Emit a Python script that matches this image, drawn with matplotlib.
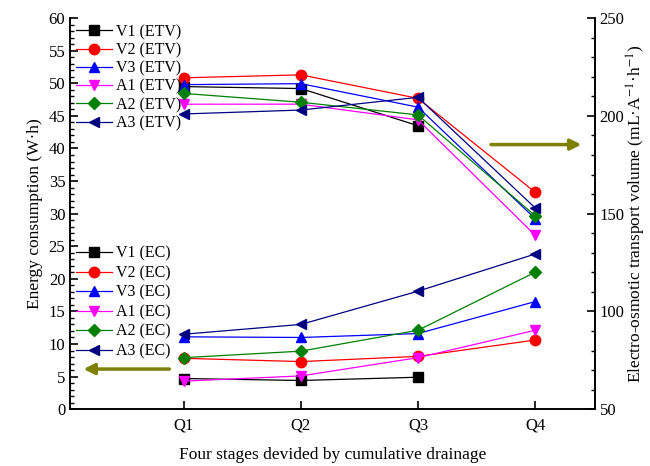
import matplotlib.pyplot as plt
from matplotlib.ticker import MultipleLocator
import numpy as np

plt.rcParams['font.family'] = ['Liberation Serif', 'DejaVu Serif']
plt.rcParams['mathtext.fontset'] = 'stix'

stages = ['Q1', 'Q2', 'Q3', 'Q4']
names = ['V1', 'V2', 'V3', 'A1', 'A2', 'A3']
nan = np.nan

# energy consumption (W·h), left axis
ec_v1 = [4.7, 4.4, 4.9, nan]
ec_v2 = [7.8, 7.3, 8.1, 10.6]
ec_v3 = [11.1, 11.0, 11.6, 16.5]
ec_a1 = [4.3, 5.1, 7.9, 12.1]
ec_a2 = [7.9, 8.9, 12.1, 21.0]
ec_a3 = [11.5, 13.0, 18.1, 23.8]

# electro-osmotic transport volume (mL·A-1·h-1), right axis
etv_v1 = [215.0, 214.0, 195.0, nan]
etv_v2 = [219.5, 221.0, 209.0, 161.0]
etv_v3 = [216.0, 216.5, 204.5, 147.5]
etv_a1 = [206.0, 206.0, 198.0, 139.0]
etv_a2 = [211.5, 207.0, 200.5, 149.0]
etv_a3 = [201.0, 203.0, 209.5, 153.0]

ec = [ec_v1, ec_v2, ec_v3, ec_a1, ec_a2, ec_a3]
etv = [etv_v1, etv_v2, etv_v3, etv_a1, etv_a2, etv_a3]

colors = ['black', 'red', 'blue', 'magenta', 'green', 'navy']
markers = ['s', 'o', '^', 'v', 'D', '<']
msizes = [6.5, 7.5, 7.5, 7.5, 6.5, 7.5]

x = np.arange(1, len(stages) + 1)

fig = plt.figure(figsize=(6.5, 4.66), dpi=100)
ax = fig.add_axes([0.108, 0.122, 0.807, 0.839])
ax2 = ax.twinx()

h_ec = []
h_etv = []
for i in range(6):
    l1, = ax.plot(x, ec[i], color=colors[i], marker=markers[i], ms=msizes[i],
                  lw=0.9, label=names[i] + ' (EC)')
    l2, = ax2.plot(x, etv[i], color=colors[i], marker=markers[i], ms=msizes[i],
                   lw=0.9, label=names[i] + ' (ETV)')
    h_ec.append(l1)
    h_etv.append(l2)

ax.set_xlim(0.03, 4.51)
ax.set_ylim(0, 60)
ax2.set_ylim(50, 250)
ax.set_xticks(x)
ax.set_xticklabels(stages)

ax.yaxis.set_major_locator(MultipleLocator(5))
ax.yaxis.set_minor_locator(MultipleLocator(1))
ax2.yaxis.set_major_locator(MultipleLocator(50))
ax2.yaxis.set_minor_locator(MultipleLocator(10))

for a in (ax, ax2):
    a.spines['top'].set_visible(False)
    a.tick_params(which='major', direction='in', length=6, width=1.2, labelsize=12)
    a.tick_params(which='minor', direction='in', length=3, width=1)
    for s in a.spines.values():
        s.set_linewidth(1.2)
ax.tick_params(axis='x', which='minor', bottom=False)
ax.tick_params(axis='x', pad=6)

ax.set_xlabel('Four stages devided by cumulative drainage', fontsize=12.5, labelpad=10)
ax.set_ylabel('Energy consumption (W·h)', fontsize=12.5, labelpad=4)
ax2.set_ylabel('Electro-osmotic transport volume (mL·A$^{-1}$·h$^{-1}$)',
               fontsize=12.5, labelpad=0)

leg1 = ax2.legend(handles=h_etv, loc='upper left', bbox_to_anchor=(0.012, 0.985),
                  frameon=False, fontsize=11.5, borderpad=0, borderaxespad=0,
                  handlelength=2.2, handletextpad=0.3, labelspacing=0.14)
ax2.add_artist(leg1)
ax2.legend(handles=h_ec, loc='upper left', bbox_to_anchor=(0.012, 0.418),
           frameon=False, fontsize=11.5, borderpad=0, borderaxespad=0,
           handlelength=2.2, handletextpad=0.3, labelspacing=0.22)

# arrows pointing to the matching axis
arrow = dict(arrowstyle='-|>', color='#808000', lw=2.5, mutation_scale=16)
ax.annotate('', xy=(4.42, 40.6), xytext=(3.6, 40.6), arrowprops=arrow)
ax.annotate('', xy=(0.12, 6.15), xytext=(0.9, 6.15), arrowprops=arrow)

fig.savefig('out.png', dpi=100)
